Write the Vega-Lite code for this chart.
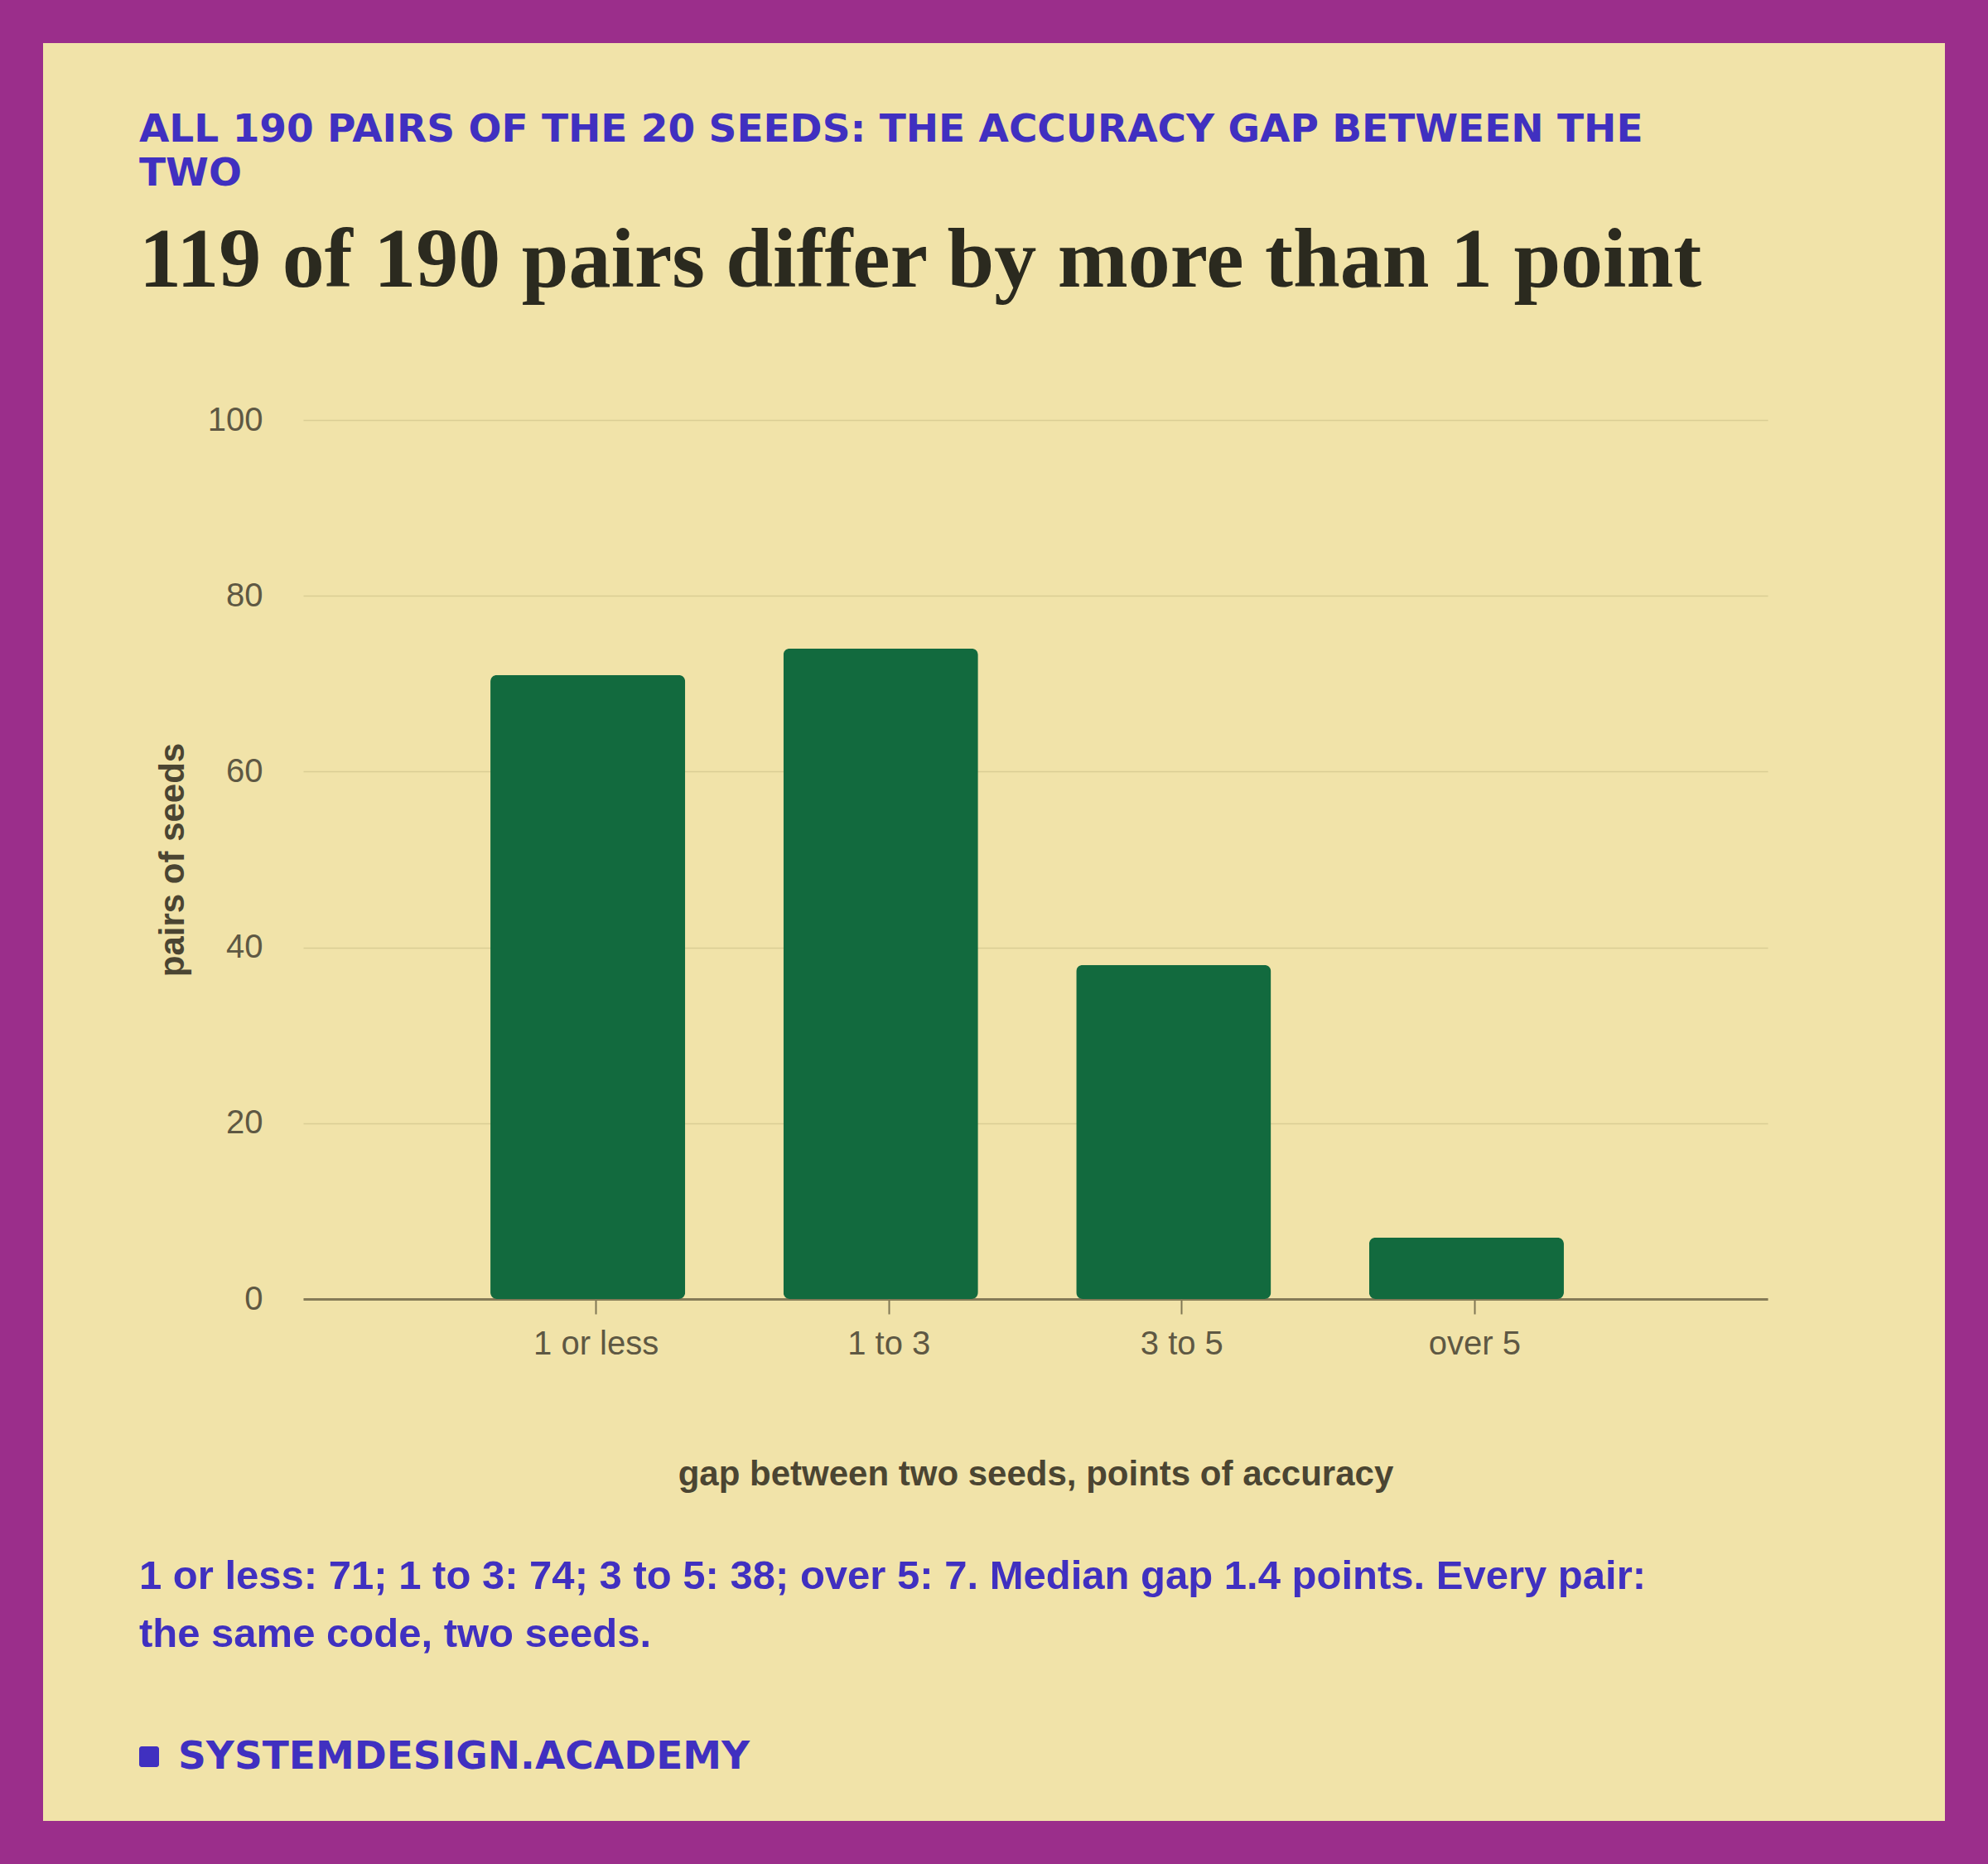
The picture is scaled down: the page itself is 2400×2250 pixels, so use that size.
{
  "$schema": "https://vega.github.io/schema/vega-lite/v6.json",
  "width": 1768,
  "height": 1061,
  "autosize": "none",
  "padding": {"left": 366, "top": 507, "right": 266, "bottom": 682},
  "background": "#f1e3a9",
  "title": {
    "text": ["ALL 190 PAIRS OF THE 20 SEEDS: THE ACCURACY GAP BETWEEN THE", "TWO"],
    "subtitle": "119 of 190 pairs differ by more than 1 point",
    "anchor": "start",
    "frame": "group",
    "dx": -198,
    "dy": 419,
    "offset": 0,
    "font": "DejaVu Sans",
    "fontSize": 47,
    "fontWeight": "bold",
    "color": "#4030c0",
    "lineHeight": 53,
    "subtitleFont": "Liberation Serif",
    "subtitleFontSize": 102,
    "subtitleFontWeight": "bold",
    "subtitleColor": "#2b2a1f",
    "subtitlePadding": 31
  },
  "data": {
    "values": [
      {"gap": "1 or less", "pairs": 71},
      {"gap": "1 to 3", "pairs": 74},
      {"gap": "3 to 5", "pairs": 38},
      {"gap": "over 5", "pairs": 7}
    ]
  },
  "layer": [
    {
      "mark": {"type": "bar", "color": "#126a3e", "cornerRadius": 8, "xOffset": -10},
      "encoding": {
        "x": {
          "field": "gap",
          "type": "nominal",
          "sort": null,
          "title": "gap between two seeds, points of accuracy",
          "scale": {"paddingInner": 0.335, "paddingOuter": 0.6675},
          "axis": {
            "labelAngle": 0,
            "labelFont": "Liberation Sans",
            "labelFontSize": 40,
            "labelColor": "#5e5843",
            "labelPadding": 16,
            "tickSize": 18,
            "tickWidth": 2,
            "tickColor": "#7f7654",
            "domainColor": "#857b57",
            "domainWidth": 3,
            "titleFont": "Liberation Sans",
            "titleFontSize": 42,
            "titleFontWeight": "bold",
            "titleColor": "#4b4532",
            "titlePadding": 117
          }
        },
        "y": {
          "field": "pairs",
          "type": "quantitative",
          "title": "pairs of seeds",
          "scale": {"domain": [0, 100]},
          "axis": {
            "values": [0, 20, 40, 60, 80, 100],
            "ticks": false,
            "domain": false,
            "gridColor": "#dacd95",
            "gridWidth": 1.5,
            "labelFont": "Liberation Sans",
            "labelFontSize": 40,
            "labelColor": "#5e5843",
            "labelPadding": 49,
            "titleFont": "Liberation Sans",
            "titleFontSize": 42,
            "titleFontWeight": "bold",
            "titleColor": "#4b4532",
            "titlePadding": 20
          }
        }
      }
    },
    {
      "data": {"values": [{}]},
      "mark": {
        "type": "text",
        "align": "left",
        "baseline": "alphabetic",
        "font": "Liberation Sans",
        "fontSize": 49,
        "fontWeight": "bold",
        "color": "#4030c0",
        "lineHeight": 70
      },
      "encoding": {
        "x": {"value": -198},
        "y": {"value": 1411},
        "text": {"value": ["1 or less: 71; 1 to 3: 74; 3 to 5: 38; over 5: 7. Median gap 1.4 points. Every pair:", "the same code, two seeds."]}
      }
    },
    {
      "data": {"values": [{}]},
      "mark": {"type": "rect", "color": "#4030c0", "cornerRadius": 3},
      "encoding": {
        "x": {"value": -198},
        "x2": {"value": -174},
        "y": {"value": 1601},
        "y2": {"value": 1626}
      }
    },
    {
      "data": {"values": [{}]},
      "mark": {
        "type": "text",
        "align": "left",
        "baseline": "alphabetic",
        "font": "DejaVu Sans",
        "fontSize": 47,
        "fontWeight": "bold",
        "color": "#4030c0"
      },
      "encoding": {
        "x": {"value": -151},
        "y": {"value": 1628},
        "text": {"value": "SYSTEMDESIGN.ACADEMY"}
      }
    },
    {
      "data": {"values": [{}]},
      "mark": {"type": "rect", "fill": null, "fillOpacity": 0, "stroke": "#9b2e8b", "strokeWidth": 104},
      "encoding": {
        "x": {"value": -366},
        "x2": {"value": 2034},
        "y": {"value": -507},
        "y2": {"value": 1743}
      }
    }
  ],
  "config": {
    "view": {"stroke": null}
  }
}
